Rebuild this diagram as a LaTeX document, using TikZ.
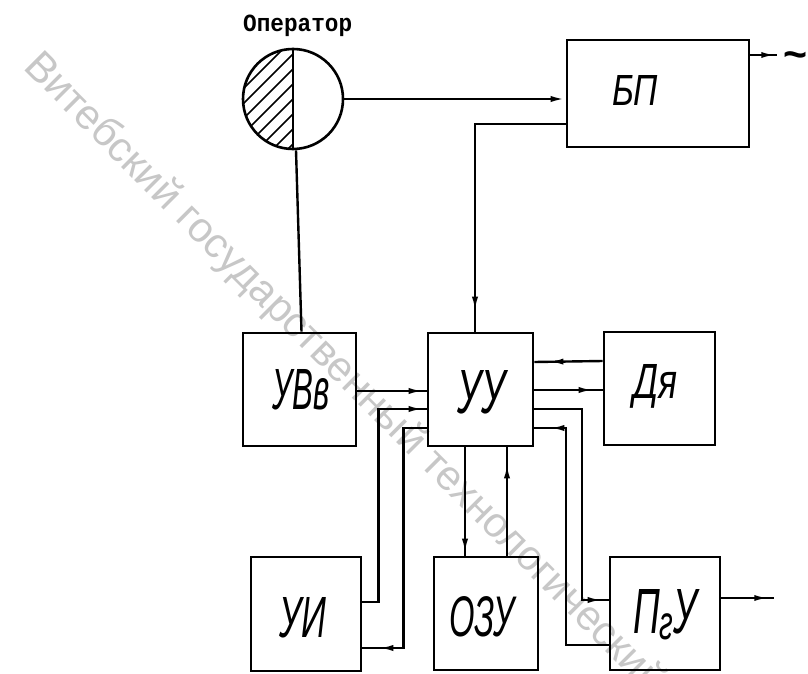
\documentclass[tikz,border=0pt]{standalone}
\usepackage{fontspec}
\setmainfont{Liberation Sans}
\newfontfamily\opfont{Liberation Mono}
\usetikzlibrary{arrows.meta,decorations.markings}
\newcommand\boxlbl[3]{\resizebox{#1}{#2}{\itshape #3}}
\tikzset{
  box/.style={draw, line width=2.6pt, inner sep=0pt},
  wire/.style={line width=2.4pt},
  tipshape/.tip={Latex[length=15pt,width=6pt]},
  arr/.style={postaction={decorate}, decoration={markings, mark=at position #1 with {\arrow{tipshape}}}},
  lbl/.style={inner sep=0pt},
}
\begin{document}
\begin{tikzpicture}[x=1pt,y=-1pt]
\useasboundingbox (0,0) rectangle (808,674);
% watermark
\node[lbl, rotate=-45, anchor=west, text=black!22, font=\fontsize{42}{42}\selectfont] (wm) at (30,60) {Витебский государственный технологический};
% operator
\node[lbl, anchor=base west, font=\opfont\bfseries] (oplabel) at (243,31.5) {\resizebox{109pt}{16.5pt}{Оператор}};
\node[circle, draw, line width=2.6pt, minimum size=100pt, inner sep=0pt] (op) at (293,99) {};
\begin{scope}
  \clip (243,49) rectangle (293,149);
  \clip (293,99) circle[radius=50];
  \foreach \d in {-105,-90,...,60} \draw[line width=1.6pt] (233+\d,159) -- (353+\d,39);
\end{scope}
\draw[line width=2.6pt] (op.north) -- (op.south);
% boxes
\node[box, minimum width=182pt, minimum height=107pt] (bp) at (658,93.5) {};
\node[box, minimum width=113pt, minimum height=113pt] (uvv) at (299.5,389.5) {};
\node[box, minimum width=105pt, minimum height=113pt] (uu) at (480.5,389.5) {};
\node[box, minimum width=111pt, minimum height=113pt] (dya) at (659.5,388.5) {};
\node[box, minimum width=110pt, minimum height=114pt] (ui) at (306,614) {};
\node[box, minimum width=104pt, minimum height=113pt] (ozu) at (486,613.5) {};
\node[box, minimum width=110pt, minimum height=113pt] (pgu) at (665,613.5) {};
% labels
\node[lbl] (bpL) at (635,90) {\boxlbl{46pt}{30pt}{БП}};
\node[lbl] (uvvL) at (301,390) {\boxlbl{57pt}{40pt}{УВв}};
\node[lbl] (uuL) at (481,392) {\boxlbl{48pt}{43pt}{УУ}};
\node[lbl] (dyaL) at (655,386) {\boxlbl{44pt}{34pt}{Дя}};
\node[lbl] (uiL) at (303,618) {\boxlbl{47pt}{40pt}{УИ}};
\node[lbl] (ozuL) at (482,617) {\boxlbl{65pt}{40pt}{ОЗУ}};
\node[lbl] (pguL) at (665,615) {\boxlbl{64pt}{44pt}{П\raisebox{-1pt}{\scalebox{0.75}{г}}У}};
% connectors
\draw[wire, -{tipshape}] (op.east) -- (op.east -| bp.west);
\draw[wire, arr=-20pt] ([yshift=24pt]bp.south west) -| ([xshift=-5.5pt]uu.north);
\draw[wire] ([xshift=3pt]op.south) -- ([xshift=2pt]uvv.north);
\draw[wire, arr=-3pt] ([yshift=-1.5pt]uvv.east) -- ([yshift=-1.5pt]uu.west);
\draw[wire, arr=-3pt] ([yshift=12pt]ui.east) -- ++(16,0) |- ([yshift=-19.5pt]uu.west);
\draw[wire, arr=-16pt] ([yshift=-38.5pt]uu.west) -| ([xshift=41pt,yshift=-34pt]ui.east) -- ([yshift=-34pt]ui.east);
\draw[wire, arr=-14pt] ([yshift=27.5pt]dya.west) -- ([yshift=27.5pt]uu.east);
\draw[wire, arr=-9pt] ([yshift=-0.5pt]uu.east) -- ([yshift=-1.5pt]dya.west);
\draw[wire, arr=-6pt] ([yshift=-19.5pt]uu.east) -| ([xshift=-27pt,yshift=13.5pt]pgu.west) -- ([yshift=13.5pt]pgu.west);
\draw[wire, arr=-15pt] ([yshift=-31.5pt]pgu.west) -- ++(-43,0) |- ([yshift=-38.5pt]uu.east);
\draw[wire, arr=-2pt] ([xshift=-15.5pt]uu.south) -- ([xshift=-15.5pt]uu.south |- ozu.north);
\draw[wire, arr=-16pt] ([xshift=21pt]ozu.north) -- ([xshift=21pt]ozu.north |- uu.south);
\coordinate (pguout) at ([yshift=15.5pt,xshift=53pt]pgu.east);
\draw[wire, arr=-5pt] ([yshift=15.5pt]pgu.east) -- (pguout);
\coordinate (bpout) at ([yshift=38.5pt,xshift=27pt]bp.east);
\draw[wire, arr=-1pt] ([yshift=38.5pt]bp.east) -- (bpout);
\node[lbl, anchor=base, font=\bfseries] (tilde) at (795,69) {\resizebox{24pt}{!}{\textasciitilde}};
\end{tikzpicture}
\end{document}
